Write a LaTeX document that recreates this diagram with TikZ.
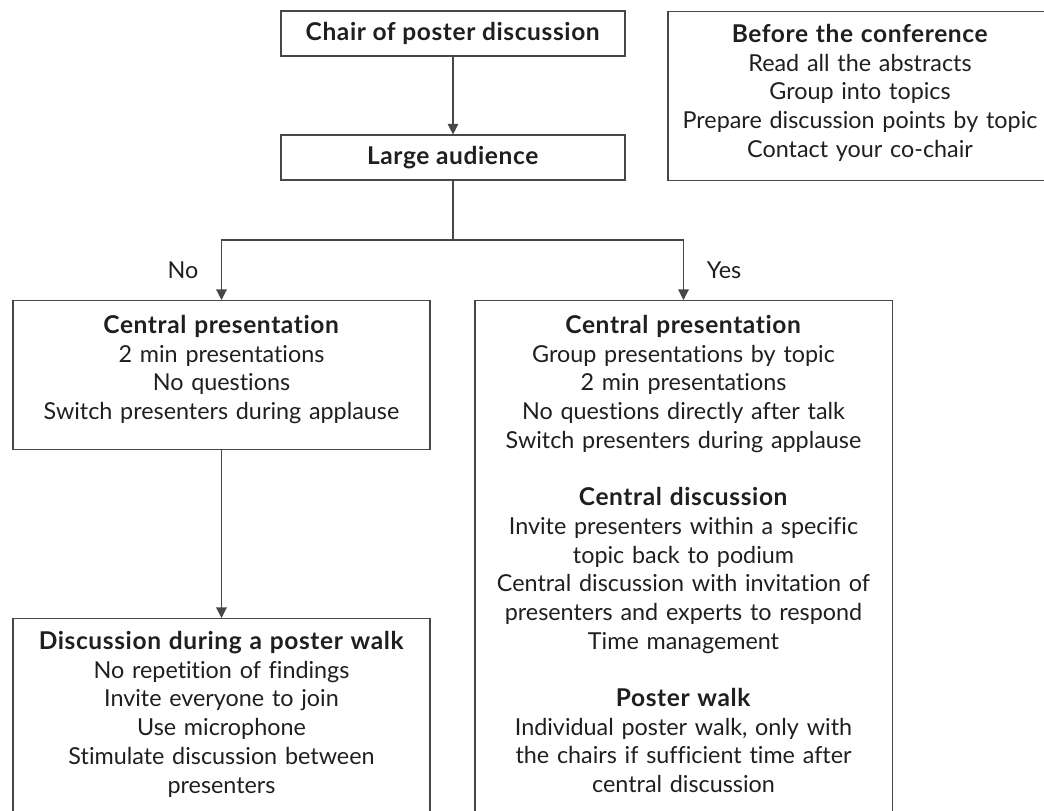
\documentclass[tikz,border=0pt]{standalone}
\usepackage{fontspec}
\setmainfont{Lato}[Ligatures=NoCommon,BoldFeatures={Scale=1.05,LetterSpace=2.5}]
\usepackage{tikz}
\usetikzlibrary{
    arrows.meta,
    positioning
}

\begin{document}
\begin{tikzpicture}[x=0.025cm,y=-0.025cm,
   every node/.style={font=\fontsize{16.6}{20.4}\selectfont,text=black!88},
   box/.style={draw=black!72,line width=0.8pt,inner sep=0pt,align=center},
   arr/.style={draw=black!72,line width=0.8pt,-{Triangle[length=7.5pt,width=7.5pt]}}]
\def\gap{\\[20.4pt]} % one empty line between sections
\useasboundingbox (0,0) rectangle (1044,810);
\clip (0,0) rectangle (1044,810);
% top row
\node[box,minimum width=8.6cm,minimum height=1.125cm] (chair) at (453,33.5)
  {\textbf{Chair of poster discussion}};
\node[box,minimum width=8.6cm,minimum height=1.125cm] (large) at (453,157.5)
  {\textbf{Large audience}};
\node[box,anchor=north,text width=9.6cm,text height=0.775cm,text depth=3.45cm] (before) at (860,11)
  {\textbf{Before the conference}\\
   Read all the abstracts\\
   Group into topics\\
   Prepare discussion points by topic\\
   Contact your co-chair};
% the two branches
\node[box,anchor=north,text width=10.425cm,text height=0.825cm,text depth=2.9cm] (cpno) at (221.5,300)
  {\textbf{Central presentation}\\
   2 min presentations\\
   No questions\\
   Switch presenters during applause};
\node[box,anchor=north,text width=10.425cm,text height=0.825cm,text depth=12.425cm] (cpyes) at (683.5,300)
  {\textbf{Central presentation}\\
   Group presentations by topic\\
   2 min presentations\\
   No questions directly after talk\\
   Switch presenters during applause\gap
   \textbf{Central discussion}\\
   Invite presenters within a specific\\
   topic back to podium\\
   Central discussion with invitation of\\
   presenters and experts to respond\\
   Time management\gap
   \textbf{Poster walk}\\
   Individual poster walk, only with\\
   the chairs if sufficient time after\\
   central discussion};
\node[box,anchor=north,text width=10.425cm,text height=0.775cm,text depth=4.525cm] (walk) at (221.5,618)
  {\textbf{Discussion during a poster walk}\\
   No repetition of findings\\
   Invite everyone to join\\
   Use microphone\\
   Stimulate discussion between\\
   presenters};
% connectors
\coordinate (split) at (453,240);
\draw[arr] (chair) -- (large);
\draw[draw=black!72,line width=0.8pt] (large) -- (split);
\draw[arr] (split) -| node[pos=0.75,left=0.45cm] {No} (cpno.north);
\draw[arr] (split) -| node[pos=0.75,right=0.45cm] {Yes} (cpyes.north);
\draw[arr] (cpno) -- (walk);
\end{tikzpicture}
\end{document}
